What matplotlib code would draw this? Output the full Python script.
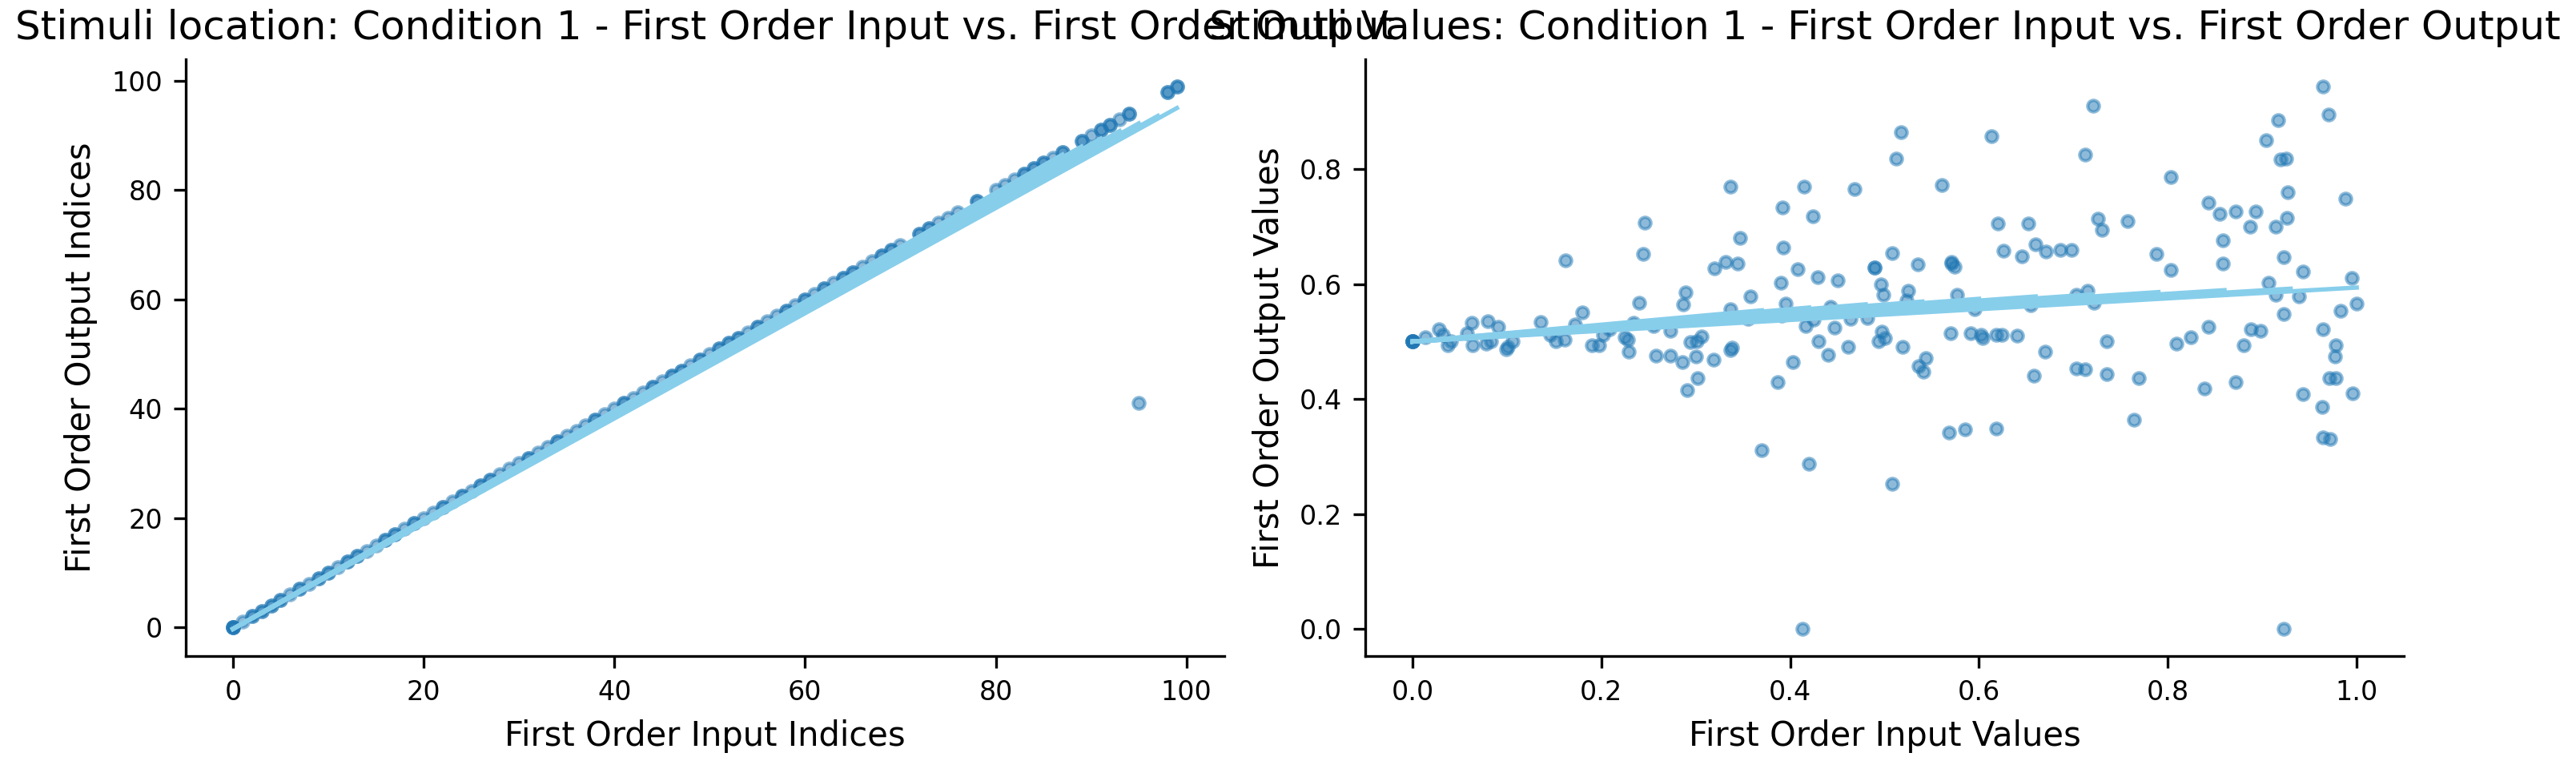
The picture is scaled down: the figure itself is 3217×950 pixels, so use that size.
import matplotlib
matplotlib.use("Agg")
import matplotlib.pyplot as plt

# stimuli location: input index -> output index (repeats = overlapping trials)
loc_in = [0, 0, 0, 0, 1, 2, 2, 3, 3, 4, 4, 5, 5, 6, 7, 7, 8, 9, 9, 10, 10, 11,
          12, 12, 13, 13, 14, 15, 16, 16, 17, 17, 18, 19, 19, 20, 21, 22, 22, 23,
          24, 24, 25, 26, 26, 27, 27, 28, 29, 30, 31, 31, 32, 33, 34, 34, 35, 36,
          37, 38, 38, 39, 40, 41, 41, 42, 43, 44, 44, 45, 46, 46, 47, 47, 48, 49,
          49, 50, 51, 51, 52, 52, 53, 53, 54, 55, 55, 56, 57, 58, 58, 59, 60, 60,
          61, 62, 62, 63, 64, 64, 65, 65, 66, 67, 68, 68, 69, 69, 70, 72, 72, 73,
          73, 74, 75, 76, 78, 78, 80, 81, 82, 83, 83, 84, 84, 85, 85, 86, 87, 87,
          89, 89, 90, 91, 91, 92, 92, 93, 94, 94, 98, 98, 99, 99]
loc_out = list(loc_in)
loc_in = loc_in + [95]
loc_out = loc_out + [41]

# per-run regression lines (slope, intercept, last input)
loc_fit_slope = [0.963, 0.968, 0.974, 0.980, 0.986, 0.992, 0.998]
loc_fit_icpt = [-0.3, -0.3, -0.3, -0.3, -0.3, -0.3, -0.3]
loc_fit_xmax = [99, 97, 95, 93, 91, 89, 87]

# stimuli values
val_in = [0.964, 0.970, 0.721, 0.517, 0.613, 0.917, 0.904, 0.512, 0.712, 0.919,
          0.925, 0.803, 0.337, 0.415, 0.468, 0.561, 0.927, 0.988, 0.392, 0.424,
          0.843, 0.855, 0.872, 0.893, 0.726, 0.730, 0.757, 0.914, 0.887, 0.926,
          0.246, 0.620, 0.652, 0.347, 0.858, 0.244, 0.393, 0.508, 0.626, 0.645,
          0.660, 0.671, 0.686, 0.698, 0.788, 0.923, 0.162, 0.332, 0.344, 0.320,
          0.408, 0.489, 0.489, 0.535, 0.571, 0.571, 0.574, 0.803, 0.858, 0.943,
          0.429, 0.450, 0.995, 0.390, 0.496, 0.907, 0.289, 0.525, 0.499, 0.358,
          0.577, 0.703, 0.715, 0.914, 0.939, 0.287, 0.240, 0.395, 0.337, 0.443,
          0.595, 0.655, 0.722, 0.523, 0.983, 1.000, 0.923, 0.180, 0.136, 0.172,
          0.234, 0.063, 0.080, 0.091, 0.028, 0.355, 0.391, 0.425, 0.482, 0.464,
          0.255, 0.416, 0.447, 0.273, 0.497, 0.570, 0.591, 0.602, 0.618, 0.624,
          0.640, 0.604, 0.843, 0.824, 0.809, 0.888, 0.898, 0.880, 0.964, 0.735,
          0.494, 0.500, 0.294, 0.301, 0.306, 0.430, 0.461, 0.519, 0.978, 0.977,
          0.000, 0.000, 0.000, 0.000, 0.000, 0.014, 0.032, 0.037, 0.041, 0.058,
          0.064, 0.078, 0.083, 0.101, 0.106, 0.099, 0.152, 0.161, 0.146, 0.190,
          0.198, 0.202, 0.209, 0.225, 0.228, 0.229, 0.258, 0.273, 0.286, 0.300,
          0.319, 0.337, 0.338, 0.291, 0.302, 0.403, 0.440, 0.387, 0.536, 0.541,
          0.544, 0.670, 0.658, 0.703, 0.712, 0.735, 0.769, 0.971, 0.978, 0.839,
          0.872, 0.943, 0.996, 0.963, 0.764, 0.568, 0.585, 0.618, 0.964, 0.972,
          0.370, 0.420, 0.508, 0.413, 0.923]
val_out = [0.944, 0.895, 0.910, 0.864, 0.858, 0.885, 0.851, 0.818, 0.825, 0.817,
           0.819, 0.787, 0.769, 0.770, 0.765, 0.772, 0.760, 0.748, 0.733, 0.718,
           0.742, 0.722, 0.726, 0.727, 0.714, 0.695, 0.710, 0.700, 0.700, 0.715,
           0.707, 0.705, 0.706, 0.680, 0.676, 0.652, 0.663, 0.654, 0.658, 0.649,
           0.669, 0.656, 0.660, 0.660, 0.652, 0.647, 0.641, 0.638, 0.636, 0.627,
           0.626, 0.629, 0.629, 0.635, 0.638, 0.636, 0.630, 0.625, 0.636, 0.622,
           0.612, 0.607, 0.611, 0.602, 0.600, 0.603, 0.586, 0.589, 0.582, 0.578,
           0.581, 0.582, 0.589, 0.581, 0.578, 0.565, 0.567, 0.566, 0.556, 0.560,
           0.556, 0.563, 0.567, 0.571, 0.553, 0.566, 0.548, 0.551, 0.534, 0.530,
           0.532, 0.532, 0.535, 0.526, 0.521, 0.540, 0.545, 0.538, 0.541, 0.540,
           0.527, 0.527, 0.524, 0.518, 0.517, 0.514, 0.514, 0.512, 0.512, 0.512,
           0.511, 0.506, 0.525, 0.508, 0.496, 0.521, 0.519, 0.494, 0.521, 0.500,
           0.501, 0.506, 0.499, 0.500, 0.509, 0.500, 0.491, 0.491, 0.494, 0.474,
           0.500, 0.500, 0.500, 0.500, 0.500, 0.508, 0.512, 0.494, 0.500, 0.514,
           0.494, 0.497, 0.500, 0.491, 0.500, 0.487, 0.500, 0.504, 0.512, 0.494,
           0.494, 0.512, 0.521, 0.507, 0.504, 0.482, 0.476, 0.476, 0.465, 0.474,
           0.468, 0.485, 0.490, 0.416, 0.436, 0.465, 0.477, 0.430, 0.457, 0.447,
           0.472, 0.483, 0.441, 0.453, 0.452, 0.443, 0.437, 0.436, 0.436, 0.418,
           0.429, 0.408, 0.410, 0.386, 0.364, 0.342, 0.347, 0.348, 0.333, 0.330,
           0.311, 0.288, 0.253, 0.000, 0.000]

val_fit_slope = [0.094, 0.099, 0.104, 0.109, 0.114, 0.119, 0.124, 0.129,
                 0.135, 0.141, 0.147]
val_fit_icpt = [0.5, 0.5, 0.5, 0.5, 0.5, 0.5, 0.5, 0.5, 0.5, 0.5, 0.5]
val_fit_xmax = [1.0, 0.93, 0.86, 0.79, 0.72, 0.66, 0.60, 0.54, 0.48, 0.42, 0.37]

fig = plt.figure(figsize=(3217 / 300, 950 / 300), dpi=300)
ax1 = fig.add_axes([0.0721, 0.1379, 0.4031, 0.7842])
ax2 = fig.add_axes([0.530, 0.1379, 0.4032, 0.7842])

panels = [
    (ax1, loc_in, loc_out, loc_fit_slope, loc_fit_icpt, loc_fit_xmax,
     "Stimuli location: Condition 1 - First Order Input vs. First Order Output",
     "First Order Input Indices", "First Order Output Indices"),
    (ax2, val_in, val_out, val_fit_slope, val_fit_icpt, val_fit_xmax,
     "Stimuli Values: Condition 1 - First Order Input vs. First Order Output",
     "First Order Input Values", "First Order Output Values"),
]

for ax, xs, ys, slopes, icpts, xmaxs, title, xlab, ylab in panels:
    ax.scatter(xs, ys, s=12, linewidths=1.0, color="#1f77b4", alpha=0.5)
    for m, b, xm in zip(slopes, icpts, xmaxs):
        ax.plot([0, xm], [b, b + m * xm], color="skyblue", lw=1.3)
    ax.set_title(title, fontsize=12)
    ax.set_xlabel(xlab, fontsize=10)
    ax.set_ylabel(ylab, fontsize=10)
    ax.tick_params(labelsize=8)
    ax.spines["top"].set_visible(False)
    ax.spines["right"].set_visible(False)

fig.savefig("out.png", dpi=300)
